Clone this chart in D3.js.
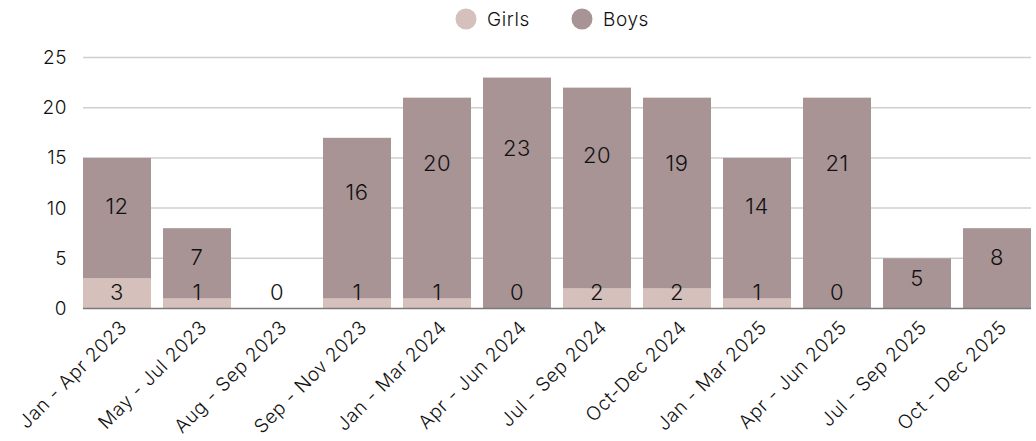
<!DOCTYPE html>
<html>
<head>
<meta charset="utf-8">
<script src="https://cdn.jsdelivr.net/npm/d3@7"></script>
<style>
  html, body { margin: 0; padding: 0; background: #fff; }
  svg { display: block; font-family: Inter, "Noto Sans", sans-serif; font-weight: 300; }
</style>
</head>
<body>
<svg id="chart" width="1036" height="441"></svg>
<script>
const categories = ["Jan - Apr 2023", "May - Jul 2023", "Aug - Sep 2023", "Sep - Nov 2023",
  "Jan - Mar 2024", "Apr - Jun 2024", "Jul - Sep 2024", "Oct-Dec 2024",
  "Jan - Mar 2025", "Apr - Jun 2025", "Jul - Sep 2025", "Oct - Dec 2025"];
const girls = [3, 1, 0, 1, 1, 0, 2, 2, 1, 0, null, null];
const boys = [12, 7, 0, 16, 20, 23, 20, 19, 14, 21, 5, 8];
const yTicks = [0, 5, 10, 15, 20, 25];
const seriesNames = ["Girls", "Boys"];
const colors = {Girls: "#d5c0bb", Boys: "#a89495"};

const svg = d3.select("#chart");
const x = d3.scaleBand().domain(categories).range([83, 1031]).paddingInner(0.15).paddingOuter(0);
const y = d3.scaleLinear().domain([0, 25]).range([308.5, 57.5]);

// gridlines
svg.append("g").selectAll("line").data(yTicks.filter(d => d > 0)).join("line")
  .attr("x1", 83).attr("x2", 1031)
  .attr("y1", d => y(d)).attr("y2", d => y(d))
  .attr("stroke", "#cfcfcf").attr("stroke-width", 1.5);

// y tick labels
const yAxis = d3.axisLeft(y).tickValues(yTicks).tickSize(0).tickPadding(16);
const gy = svg.append("g").attr("transform", "translate(83,0)").call(yAxis);
gy.select(".domain").remove();
gy.selectAll("text").attr("font-size", 19).attr("fill", "#111")
  .attr("font-family", "Inter, sans-serif").attr("font-weight", 300).attr("letter-spacing", "0.5px");

const rows = categories.map((c, i) => ({cat: c, g: girls[i] || 0, b: boys[i], gRaw: girls[i]}));

// bars
const gBars = svg.append("g");
gBars.selectAll("rect.girls").data(rows).join("rect").attr("class", "girls")
  .attr("x", d => x(d.cat)).attr("width", x.bandwidth())
  .attr("y", d => y(d.g)).attr("height", d => y(0) - y(d.g))
  .attr("fill", colors.Girls);
gBars.selectAll("rect.boys").data(rows).join("rect").attr("class", "boys")
  .attr("x", d => x(d.cat)).attr("width", x.bandwidth())
  .attr("y", d => y(d.g + d.b)).attr("height", d => y(d.g) - y(d.g + d.b))
  .attr("fill", colors.Boys);

// baseline
svg.append("line").attr("x1", 83).attr("x2", 1031).attr("y1", y(0)).attr("y2", y(0))
  .attr("stroke", "#7a7a7a").attr("stroke-width", 1.5);

// value labels
const lab = svg.append("g").attr("font-size", 22).attr("fill", "#111").attr("text-anchor", "middle")
  .attr("letter-spacing", "0.5px");
lab.selectAll("text.gl").data(rows.filter(d => d.gRaw !== null)).join("text").attr("class", "gl")
  .attr("x", d => x(d.cat) + x.bandwidth() / 2)
  .attr("y", y(0) - 16).attr("dy", "0.36em")
  .text(d => d.gRaw);
lab.selectAll("text.bl").data(rows.filter(d => d.b > 0)).join("text").attr("class", "bl")
  .attr("x", d => x(d.cat) + x.bandwidth() / 2)
  .attr("y", d => y(0.72 * (d.g + d.b) - 0.6)).attr("dy", "0.36em")
  .text(d => d.b);

// x labels
const xl = svg.append("g").attr("font-size", 19).attr("fill", "#111").attr("letter-spacing", "0.6px");
xl.selectAll("text").data(categories).join("text")
  .attr("transform", d => `translate(${x(d) + x.bandwidth() / 2 + 11},${y(0) + 20}) rotate(-45)`)
  .attr("text-anchor", "end")
  .text(d => d);

// legend
const legendX = {Girls: 466, Boys: 582};
const lg = svg.append("g");
seriesNames.forEach(n => {
  lg.append("circle").attr("cx", legendX[n]).attr("cy", 19).attr("r", 10.5).attr("fill", colors[n]);
  lg.append("text").attr("x", legendX[n] + 21).attr("y", 19).attr("dy", "0.35em")
    .attr("font-size", 19).attr("letter-spacing", "0.6px").attr("fill", "#111").text(n);
});
</script>
</body>
</html>
